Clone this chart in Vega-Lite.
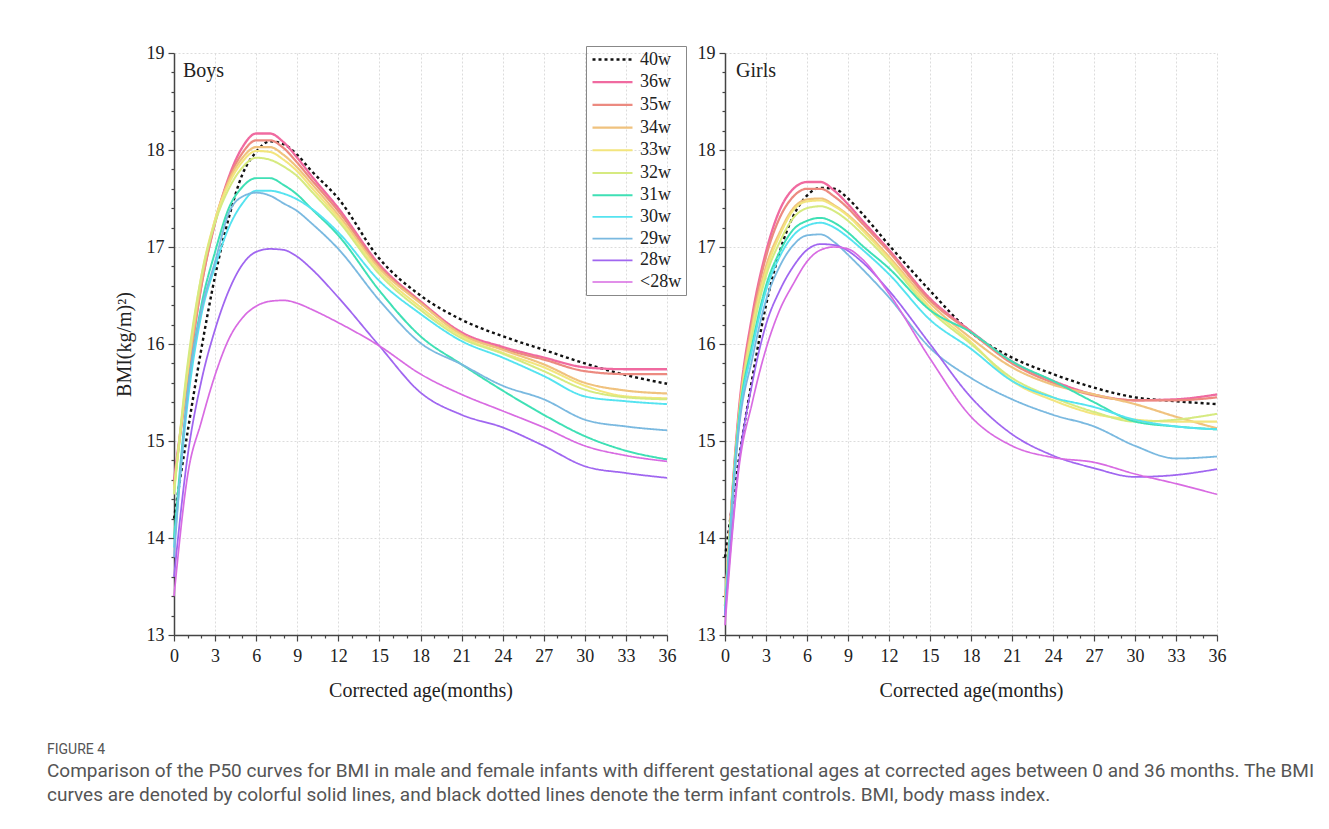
{
"$schema": "https://vega.github.io/schema/vega-lite/v6.json",
"background": "white",
"padding": {"left": 47, "top": 44, "right": 10, "bottom": 10},
"config": {
  "font": "Liberation Serif",
  "view": {"stroke": null},
  "axis": {"labelFont": "Liberation Serif", "labelFontSize": 18, "labelColor": "#222", "titleFont": "Liberation Serif", "titleFontSize": 20, "titleFontWeight": "normal", "titleColor": "#222", "domainColor": "#444", "domainWidth": 1.5, "tickColor": "#444", "tickWidth": 1.2, "gridColor": "#dcdcdc", "gridDash": [2, 2], "labelFlush": false, "labelOverlap": false}
},
"title": {"text": "FIGURE 4", "subtitle": ["Comparison of the P50 curves for BMI in male and female infants with different gestational ages at corrected ages between 0 and 36 months. The BMI", "curves are denoted by colorful solid lines, and black dotted lines denote the term infant controls. BMI, body mass index."], "orient": "bottom", "anchor": "start", "frame": "group", "dx": -127, "offset": 43, "font": "Roboto", "fontSize": 14, "fontWeight": "normal", "color": "#555", "subtitleFont": "Roboto", "subtitleFontSize": 19, "subtitleColor": "#555", "subtitleLineHeight": 24, "subtitlePadding": 5},
"bounds": "flush",
"spacing": 58,
"resolve": {"legend": {"color": "independent", "strokeDash": "independent", "strokeWidth": "independent"}},
"datasets": {"bmi": [
{"p":"Boys","s":"40w","m":0,"v":14.2},{"p":"Boys","s":"40w","m":1,"v":15.1},{"p":"Boys","s":"40w","m":2,"v":15.95},{"p":"Boys","s":"40w","m":3,"v":16.7},{"p":"Boys","s":"40w","m":4,"v":17.3},{"p":"Boys","s":"40w","m":5,"v":17.75},{"p":"Boys","s":"40w","m":6,"v":17.98},{"p":"Boys","s":"40w","m":7,"v":18.09},{"p":"Boys","s":"40w","m":8,"v":18.06},{"p":"Boys","s":"40w","m":9,"v":17.95},{"p":"Boys","s":"40w","m":10,"v":17.79},{"p":"Boys","s":"40w","m":12,"v":17.5},{"p":"Boys","s":"40w","m":15,"v":16.88},{"p":"Boys","s":"40w","m":18,"v":16.5},{"p":"Boys","s":"40w","m":21,"v":16.25},{"p":"Boys","s":"40w","m":24,"v":16.08},{"p":"Boys","s":"40w","m":27,"v":15.94},{"p":"Boys","s":"40w","m":30,"v":15.8},{"p":"Boys","s":"40w","m":33,"v":15.68},{"p":"Boys","s":"40w","m":36,"v":15.59},
{"p":"Boys","s":"36w","m":0,"v":14.6},{"p":"Boys","s":"36w","m":1,"v":15.65},{"p":"Boys","s":"36w","m":2,"v":16.6},{"p":"Boys","s":"36w","m":3,"v":17.25},{"p":"Boys","s":"36w","m":4,"v":17.72},{"p":"Boys","s":"36w","m":5,"v":18.03},{"p":"Boys","s":"36w","m":6,"v":18.17},{"p":"Boys","s":"36w","m":7,"v":18.17},{"p":"Boys","s":"36w","m":8,"v":18.08},{"p":"Boys","s":"36w","m":9,"v":17.92},{"p":"Boys","s":"36w","m":10,"v":17.74},{"p":"Boys","s":"36w","m":12,"v":17.4},{"p":"Boys","s":"36w","m":15,"v":16.82},{"p":"Boys","s":"36w","m":18,"v":16.44},{"p":"Boys","s":"36w","m":21,"v":16.12},{"p":"Boys","s":"36w","m":24,"v":15.97},{"p":"Boys","s":"36w","m":27,"v":15.86},{"p":"Boys","s":"36w","m":30,"v":15.76},{"p":"Boys","s":"36w","m":33,"v":15.74},{"p":"Boys","s":"36w","m":36,"v":15.74},
{"p":"Boys","s":"35w","m":0,"v":14.55},{"p":"Boys","s":"35w","m":1,"v":15.65},{"p":"Boys","s":"35w","m":2,"v":16.6},{"p":"Boys","s":"35w","m":3,"v":17.25},{"p":"Boys","s":"35w","m":4,"v":17.7},{"p":"Boys","s":"35w","m":5,"v":17.97},{"p":"Boys","s":"35w","m":6,"v":18.1},{"p":"Boys","s":"35w","m":7,"v":18.1},{"p":"Boys","s":"35w","m":8,"v":18.02},{"p":"Boys","s":"35w","m":9,"v":17.87},{"p":"Boys","s":"35w","m":10,"v":17.7},{"p":"Boys","s":"35w","m":12,"v":17.37},{"p":"Boys","s":"35w","m":15,"v":16.8},{"p":"Boys","s":"35w","m":18,"v":16.43},{"p":"Boys","s":"35w","m":21,"v":16.1},{"p":"Boys","s":"35w","m":24,"v":15.95},{"p":"Boys","s":"35w","m":27,"v":15.84},{"p":"Boys","s":"35w","m":30,"v":15.72},{"p":"Boys","s":"35w","m":33,"v":15.69},{"p":"Boys","s":"35w","m":36,"v":15.69},
{"p":"Boys","s":"34w","m":0,"v":14.5},{"p":"Boys","s":"34w","m":1,"v":15.7},{"p":"Boys","s":"34w","m":2,"v":16.65},{"p":"Boys","s":"34w","m":3,"v":17.28},{"p":"Boys","s":"34w","m":4,"v":17.68},{"p":"Boys","s":"34w","m":5,"v":17.92},{"p":"Boys","s":"34w","m":6,"v":18.03},{"p":"Boys","s":"34w","m":7,"v":18.03},{"p":"Boys","s":"34w","m":8,"v":17.95},{"p":"Boys","s":"34w","m":9,"v":17.82},{"p":"Boys","s":"34w","m":10,"v":17.66},{"p":"Boys","s":"34w","m":12,"v":17.33},{"p":"Boys","s":"34w","m":15,"v":16.78},{"p":"Boys","s":"34w","m":18,"v":16.42},{"p":"Boys","s":"34w","m":21,"v":16.1},{"p":"Boys","s":"34w","m":24,"v":15.94},{"p":"Boys","s":"34w","m":27,"v":15.79},{"p":"Boys","s":"34w","m":30,"v":15.6},{"p":"Boys","s":"34w","m":33,"v":15.52},{"p":"Boys","s":"34w","m":36,"v":15.49},
{"p":"Boys","s":"33w","m":0,"v":14.5},{"p":"Boys","s":"33w","m":1,"v":15.75},{"p":"Boys","s":"33w","m":2,"v":16.7},{"p":"Boys","s":"33w","m":3,"v":17.28},{"p":"Boys","s":"33w","m":4,"v":17.65},{"p":"Boys","s":"33w","m":5,"v":17.88},{"p":"Boys","s":"33w","m":6,"v":17.99},{"p":"Boys","s":"33w","m":7,"v":17.98},{"p":"Boys","s":"33w","m":8,"v":17.9},{"p":"Boys","s":"33w","m":9,"v":17.78},{"p":"Boys","s":"33w","m":10,"v":17.62},{"p":"Boys","s":"33w","m":12,"v":17.3},{"p":"Boys","s":"33w","m":15,"v":16.75},{"p":"Boys","s":"33w","m":18,"v":16.38},{"p":"Boys","s":"33w","m":21,"v":16.08},{"p":"Boys","s":"33w","m":24,"v":15.91},{"p":"Boys","s":"33w","m":27,"v":15.76},{"p":"Boys","s":"33w","m":30,"v":15.57},{"p":"Boys","s":"33w","m":33,"v":15.46},{"p":"Boys","s":"33w","m":36,"v":15.44},
{"p":"Boys","s":"32w","m":0,"v":14.45},{"p":"Boys","s":"32w","m":1,"v":15.8},{"p":"Boys","s":"32w","m":2,"v":16.7},{"p":"Boys","s":"32w","m":3,"v":17.25},{"p":"Boys","s":"32w","m":4,"v":17.6},{"p":"Boys","s":"32w","m":5,"v":17.82},{"p":"Boys","s":"32w","m":6,"v":17.92},{"p":"Boys","s":"32w","m":7,"v":17.9},{"p":"Boys","s":"32w","m":8,"v":17.83},{"p":"Boys","s":"32w","m":9,"v":17.73},{"p":"Boys","s":"32w","m":10,"v":17.58},{"p":"Boys","s":"32w","m":12,"v":17.27},{"p":"Boys","s":"32w","m":15,"v":16.72},{"p":"Boys","s":"32w","m":18,"v":16.35},{"p":"Boys","s":"32w","m":21,"v":16.06},{"p":"Boys","s":"32w","m":24,"v":15.9},{"p":"Boys","s":"32w","m":27,"v":15.72},{"p":"Boys","s":"32w","m":30,"v":15.53},{"p":"Boys","s":"32w","m":33,"v":15.45},{"p":"Boys","s":"32w","m":36,"v":15.43},
{"p":"Boys","s":"31w","m":0,"v":14.0},{"p":"Boys","s":"31w","m":1,"v":15.5},{"p":"Boys","s":"31w","m":2,"v":16.4},{"p":"Boys","s":"31w","m":3,"v":16.95},{"p":"Boys","s":"31w","m":4,"v":17.4},{"p":"Boys","s":"31w","m":5,"v":17.62},{"p":"Boys","s":"31w","m":6,"v":17.71},{"p":"Boys","s":"31w","m":7,"v":17.71},{"p":"Boys","s":"31w","m":8,"v":17.64},{"p":"Boys","s":"31w","m":9,"v":17.54},{"p":"Boys","s":"31w","m":10,"v":17.4},{"p":"Boys","s":"31w","m":12,"v":17.12},{"p":"Boys","s":"31w","m":15,"v":16.55},{"p":"Boys","s":"31w","m":18,"v":16.08},{"p":"Boys","s":"31w","m":21,"v":15.79},{"p":"Boys","s":"31w","m":24,"v":15.52},{"p":"Boys","s":"31w","m":27,"v":15.27},{"p":"Boys","s":"31w","m":30,"v":15.05},{"p":"Boys","s":"31w","m":33,"v":14.9},{"p":"Boys","s":"31w","m":36,"v":14.81},
{"p":"Boys","s":"30w","m":0,"v":13.9},{"p":"Boys","s":"30w","m":1,"v":15.4},{"p":"Boys","s":"30w","m":2,"v":16.3},{"p":"Boys","s":"30w","m":3,"v":16.8},{"p":"Boys","s":"30w","m":4,"v":17.2},{"p":"Boys","s":"30w","m":5,"v":17.45},{"p":"Boys","s":"30w","m":6,"v":17.58},{"p":"Boys","s":"30w","m":7,"v":17.58},{"p":"Boys","s":"30w","m":8,"v":17.55},{"p":"Boys","s":"30w","m":9,"v":17.49},{"p":"Boys","s":"30w","m":10,"v":17.4},{"p":"Boys","s":"30w","m":12,"v":17.15},{"p":"Boys","s":"30w","m":15,"v":16.65},{"p":"Boys","s":"30w","m":18,"v":16.31},{"p":"Boys","s":"30w","m":21,"v":16.03},{"p":"Boys","s":"30w","m":24,"v":15.86},{"p":"Boys","s":"30w","m":27,"v":15.67},{"p":"Boys","s":"30w","m":30,"v":15.46},{"p":"Boys","s":"30w","m":33,"v":15.41},{"p":"Boys","s":"30w","m":36,"v":15.38},
{"p":"Boys","s":"29w","m":0,"v":13.8},{"p":"Boys","s":"29w","m":1,"v":15.5},{"p":"Boys","s":"29w","m":2,"v":16.35},{"p":"Boys","s":"29w","m":3,"v":16.85},{"p":"Boys","s":"29w","m":4,"v":17.35},{"p":"Boys","s":"29w","m":5,"v":17.52},{"p":"Boys","s":"29w","m":6,"v":17.56},{"p":"Boys","s":"29w","m":7,"v":17.53},{"p":"Boys","s":"29w","m":8,"v":17.45},{"p":"Boys","s":"29w","m":9,"v":17.37},{"p":"Boys","s":"29w","m":10,"v":17.25},{"p":"Boys","s":"29w","m":12,"v":16.98},{"p":"Boys","s":"29w","m":15,"v":16.45},{"p":"Boys","s":"29w","m":18,"v":16.01},{"p":"Boys","s":"29w","m":21,"v":15.79},{"p":"Boys","s":"29w","m":24,"v":15.57},{"p":"Boys","s":"29w","m":27,"v":15.43},{"p":"Boys","s":"29w","m":30,"v":15.22},{"p":"Boys","s":"29w","m":33,"v":15.15},{"p":"Boys","s":"29w","m":36,"v":15.11},
{"p":"Boys","s":"28w","m":0,"v":13.6},{"p":"Boys","s":"28w","m":1,"v":14.85},{"p":"Boys","s":"28w","m":2,"v":15.62},{"p":"Boys","s":"28w","m":3,"v":16.15},{"p":"Boys","s":"28w","m":4,"v":16.55},{"p":"Boys","s":"28w","m":5,"v":16.82},{"p":"Boys","s":"28w","m":6,"v":16.95},{"p":"Boys","s":"28w","m":7,"v":16.98},{"p":"Boys","s":"28w","m":8,"v":16.97},{"p":"Boys","s":"28w","m":9,"v":16.9},{"p":"Boys","s":"28w","m":10,"v":16.78},{"p":"Boys","s":"28w","m":12,"v":16.48},{"p":"Boys","s":"28w","m":15,"v":15.98},{"p":"Boys","s":"28w","m":18,"v":15.5},{"p":"Boys","s":"28w","m":21,"v":15.27},{"p":"Boys","s":"28w","m":24,"v":15.14},{"p":"Boys","s":"28w","m":27,"v":14.95},{"p":"Boys","s":"28w","m":30,"v":14.74},{"p":"Boys","s":"28w","m":33,"v":14.67},{"p":"Boys","s":"28w","m":36,"v":14.62},
{"p":"Boys","s":"<28w","m":0,"v":13.4},{"p":"Boys","s":"<28w","m":1,"v":14.65},{"p":"Boys","s":"<28w","m":2,"v":15.2},{"p":"Boys","s":"<28w","m":3,"v":15.68},{"p":"Boys","s":"<28w","m":4,"v":16.05},{"p":"Boys","s":"<28w","m":5,"v":16.27},{"p":"Boys","s":"<28w","m":6,"v":16.39},{"p":"Boys","s":"<28w","m":7,"v":16.44},{"p":"Boys","s":"<28w","m":8,"v":16.45},{"p":"Boys","s":"<28w","m":9,"v":16.42},{"p":"Boys","s":"<28w","m":10,"v":16.36},{"p":"Boys","s":"<28w","m":12,"v":16.22},{"p":"Boys","s":"<28w","m":15,"v":15.98},{"p":"Boys","s":"<28w","m":18,"v":15.69},{"p":"Boys","s":"<28w","m":21,"v":15.48},{"p":"Boys","s":"<28w","m":24,"v":15.31},{"p":"Boys","s":"<28w","m":27,"v":15.14},{"p":"Boys","s":"<28w","m":30,"v":14.95},{"p":"Boys","s":"<28w","m":33,"v":14.85},{"p":"Boys","s":"<28w","m":36,"v":14.79},
{"p":"Girls","s":"40w","m":0,"v":13.8},{"p":"Girls","s":"40w","m":1,"v":14.8},{"p":"Girls","s":"40w","m":2,"v":15.65},{"p":"Girls","s":"40w","m":3,"v":16.4},{"p":"Girls","s":"40w","m":4,"v":16.95},{"p":"Girls","s":"40w","m":5,"v":17.32},{"p":"Girls","s":"40w","m":6,"v":17.53},{"p":"Girls","s":"40w","m":7,"v":17.61},{"p":"Girls","s":"40w","m":8,"v":17.6},{"p":"Girls","s":"40w","m":9,"v":17.5},{"p":"Girls","s":"40w","m":10,"v":17.35},{"p":"Girls","s":"40w","m":12,"v":17.02},{"p":"Girls","s":"40w","m":15,"v":16.55},{"p":"Girls","s":"40w","m":18,"v":16.12},{"p":"Girls","s":"40w","m":21,"v":15.86},{"p":"Girls","s":"40w","m":24,"v":15.69},{"p":"Girls","s":"40w","m":27,"v":15.55},{"p":"Girls","s":"40w","m":30,"v":15.45},{"p":"Girls","s":"40w","m":33,"v":15.41},{"p":"Girls","s":"40w","m":36,"v":15.38},
{"p":"Girls","s":"36w","m":0,"v":13.3},{"p":"Girls","s":"36w","m":1,"v":15.3},{"p":"Girls","s":"36w","m":2,"v":16.3},{"p":"Girls","s":"36w","m":3,"v":16.95},{"p":"Girls","s":"36w","m":4,"v":17.38},{"p":"Girls","s":"36w","m":5,"v":17.6},{"p":"Girls","s":"36w","m":6,"v":17.67},{"p":"Girls","s":"36w","m":7,"v":17.67},{"p":"Girls","s":"36w","m":8,"v":17.58},{"p":"Girls","s":"36w","m":9,"v":17.44},{"p":"Girls","s":"36w","m":10,"v":17.28},{"p":"Girls","s":"36w","m":12,"v":16.97},{"p":"Girls","s":"36w","m":15,"v":16.47},{"p":"Girls","s":"36w","m":18,"v":16.13},{"p":"Girls","s":"36w","m":21,"v":15.82},{"p":"Girls","s":"36w","m":24,"v":15.62},{"p":"Girls","s":"36w","m":27,"v":15.48},{"p":"Girls","s":"36w","m":30,"v":15.42},{"p":"Girls","s":"36w","m":33,"v":15.43},{"p":"Girls","s":"36w","m":36,"v":15.48},
{"p":"Girls","s":"35w","m":0,"v":13.3},{"p":"Girls","s":"35w","m":1,"v":15.25},{"p":"Girls","s":"35w","m":2,"v":16.25},{"p":"Girls","s":"35w","m":3,"v":16.9},{"p":"Girls","s":"35w","m":4,"v":17.3},{"p":"Girls","s":"35w","m":5,"v":17.52},{"p":"Girls","s":"35w","m":6,"v":17.6},{"p":"Girls","s":"35w","m":7,"v":17.6},{"p":"Girls","s":"35w","m":8,"v":17.52},{"p":"Girls","s":"35w","m":9,"v":17.4},{"p":"Girls","s":"35w","m":10,"v":17.25},{"p":"Girls","s":"35w","m":12,"v":16.95},{"p":"Girls","s":"35w","m":15,"v":16.45},{"p":"Girls","s":"35w","m":18,"v":16.12},{"p":"Girls","s":"35w","m":21,"v":15.8},{"p":"Girls","s":"35w","m":24,"v":15.6},{"p":"Girls","s":"35w","m":27,"v":15.47},{"p":"Girls","s":"35w","m":30,"v":15.42},{"p":"Girls","s":"35w","m":33,"v":15.42},{"p":"Girls","s":"35w","m":36,"v":15.45},
{"p":"Girls","s":"34w","m":0,"v":13.3},{"p":"Girls","s":"34w","m":1,"v":15.25},{"p":"Girls","s":"34w","m":2,"v":16.2},{"p":"Girls","s":"34w","m":3,"v":16.8},{"p":"Girls","s":"34w","m":4,"v":17.15},{"p":"Girls","s":"34w","m":5,"v":17.4},{"p":"Girls","s":"34w","m":6,"v":17.49},{"p":"Girls","s":"34w","m":7,"v":17.5},{"p":"Girls","s":"34w","m":8,"v":17.43},{"p":"Girls","s":"34w","m":9,"v":17.33},{"p":"Girls","s":"34w","m":10,"v":17.2},{"p":"Girls","s":"34w","m":12,"v":16.9},{"p":"Girls","s":"34w","m":15,"v":16.42},{"p":"Girls","s":"34w","m":18,"v":16.06},{"p":"Girls","s":"34w","m":21,"v":15.76},{"p":"Girls","s":"34w","m":24,"v":15.58},{"p":"Girls","s":"34w","m":27,"v":15.48},{"p":"Girls","s":"34w","m":30,"v":15.38},{"p":"Girls","s":"34w","m":33,"v":15.25},{"p":"Girls","s":"34w","m":36,"v":15.13},
{"p":"Girls","s":"33w","m":0,"v":13.3},{"p":"Girls","s":"33w","m":1,"v":15.2},{"p":"Girls","s":"33w","m":2,"v":16.15},{"p":"Girls","s":"33w","m":3,"v":16.75},{"p":"Girls","s":"33w","m":4,"v":17.12},{"p":"Girls","s":"33w","m":5,"v":17.38},{"p":"Girls","s":"33w","m":6,"v":17.47},{"p":"Girls","s":"33w","m":7,"v":17.48},{"p":"Girls","s":"33w","m":8,"v":17.42},{"p":"Girls","s":"33w","m":9,"v":17.32},{"p":"Girls","s":"33w","m":10,"v":17.18},{"p":"Girls","s":"33w","m":12,"v":16.88},{"p":"Girls","s":"33w","m":15,"v":16.38},{"p":"Girls","s":"33w","m":18,"v":16.02},{"p":"Girls","s":"33w","m":21,"v":15.62},{"p":"Girls","s":"33w","m":24,"v":15.42},{"p":"Girls","s":"33w","m":27,"v":15.28},{"p":"Girls","s":"33w","m":30,"v":15.22},{"p":"Girls","s":"33w","m":33,"v":15.2},{"p":"Girls","s":"33w","m":36,"v":15.2},
{"p":"Girls","s":"32w","m":0,"v":13.3},{"p":"Girls","s":"32w","m":1,"v":15.2},{"p":"Girls","s":"32w","m":2,"v":16.1},{"p":"Girls","s":"32w","m":3,"v":16.7},{"p":"Girls","s":"32w","m":4,"v":17.05},{"p":"Girls","s":"32w","m":5,"v":17.3},{"p":"Girls","s":"32w","m":6,"v":17.4},{"p":"Girls","s":"32w","m":7,"v":17.42},{"p":"Girls","s":"32w","m":8,"v":17.37},{"p":"Girls","s":"32w","m":9,"v":17.27},{"p":"Girls","s":"32w","m":10,"v":17.14},{"p":"Girls","s":"32w","m":12,"v":16.85},{"p":"Girls","s":"32w","m":15,"v":16.35},{"p":"Girls","s":"32w","m":18,"v":16.0},{"p":"Girls","s":"32w","m":21,"v":15.65},{"p":"Girls","s":"32w","m":24,"v":15.45},{"p":"Girls","s":"32w","m":27,"v":15.3},{"p":"Girls","s":"32w","m":30,"v":15.2},{"p":"Girls","s":"32w","m":33,"v":15.22},{"p":"Girls","s":"32w","m":36,"v":15.28},
{"p":"Girls","s":"31w","m":0,"v":13.25},{"p":"Girls","s":"31w","m":1,"v":15.2},{"p":"Girls","s":"31w","m":2,"v":16.0},{"p":"Girls","s":"31w","m":3,"v":16.6},{"p":"Girls","s":"31w","m":4,"v":16.95},{"p":"Girls","s":"31w","m":5,"v":17.18},{"p":"Girls","s":"31w","m":6,"v":17.27},{"p":"Girls","s":"31w","m":7,"v":17.3},{"p":"Girls","s":"31w","m":8,"v":17.25},{"p":"Girls","s":"31w","m":9,"v":17.15},{"p":"Girls","s":"31w","m":10,"v":17.02},{"p":"Girls","s":"31w","m":12,"v":16.78},{"p":"Girls","s":"31w","m":15,"v":16.35},{"p":"Girls","s":"31w","m":18,"v":16.12},{"p":"Girls","s":"31w","m":21,"v":15.82},{"p":"Girls","s":"31w","m":24,"v":15.62},{"p":"Girls","s":"31w","m":27,"v":15.4},{"p":"Girls","s":"31w","m":30,"v":15.2},{"p":"Girls","s":"31w","m":33,"v":15.15},{"p":"Girls","s":"31w","m":36,"v":15.12},
{"p":"Girls","s":"30w","m":0,"v":13.2},{"p":"Girls","s":"30w","m":1,"v":15.15},{"p":"Girls","s":"30w","m":2,"v":15.95},{"p":"Girls","s":"30w","m":3,"v":16.55},{"p":"Girls","s":"30w","m":4,"v":16.9},{"p":"Girls","s":"30w","m":5,"v":17.12},{"p":"Girls","s":"30w","m":6,"v":17.22},{"p":"Girls","s":"30w","m":7,"v":17.25},{"p":"Girls","s":"30w","m":8,"v":17.2},{"p":"Girls","s":"30w","m":9,"v":17.1},{"p":"Girls","s":"30w","m":10,"v":16.98},{"p":"Girls","s":"30w","m":12,"v":16.72},{"p":"Girls","s":"30w","m":15,"v":16.25},{"p":"Girls","s":"30w","m":18,"v":15.95},{"p":"Girls","s":"30w","m":21,"v":15.62},{"p":"Girls","s":"30w","m":24,"v":15.45},{"p":"Girls","s":"30w","m":27,"v":15.35},{"p":"Girls","s":"30w","m":30,"v":15.22},{"p":"Girls","s":"30w","m":33,"v":15.15},{"p":"Girls","s":"30w","m":36,"v":15.12},
{"p":"Girls","s":"29w","m":0,"v":13.2},{"p":"Girls","s":"29w","m":1,"v":15.1},{"p":"Girls","s":"29w","m":2,"v":15.85},{"p":"Girls","s":"29w","m":3,"v":16.45},{"p":"Girls","s":"29w","m":4,"v":16.8},{"p":"Girls","s":"29w","m":5,"v":17.02},{"p":"Girls","s":"29w","m":6,"v":17.12},{"p":"Girls","s":"29w","m":7,"v":17.13},{"p":"Girls","s":"29w","m":8,"v":17.05},{"p":"Girls","s":"29w","m":9,"v":16.92},{"p":"Girls","s":"29w","m":10,"v":16.78},{"p":"Girls","s":"29w","m":12,"v":16.48},{"p":"Girls","s":"29w","m":15,"v":15.96},{"p":"Girls","s":"29w","m":18,"v":15.65},{"p":"Girls","s":"29w","m":21,"v":15.43},{"p":"Girls","s":"29w","m":24,"v":15.27},{"p":"Girls","s":"29w","m":27,"v":15.15},{"p":"Girls","s":"29w","m":30,"v":14.95},{"p":"Girls","s":"29w","m":33,"v":14.82},{"p":"Girls","s":"29w","m":36,"v":14.84},
{"p":"Girls","s":"28w","m":0,"v":13.2},{"p":"Girls","s":"28w","m":1,"v":14.75},{"p":"Girls","s":"28w","m":2,"v":15.6},{"p":"Girls","s":"28w","m":3,"v":16.2},{"p":"Girls","s":"28w","m":4,"v":16.55},{"p":"Girls","s":"28w","m":5,"v":16.8},{"p":"Girls","s":"28w","m":6,"v":16.97},{"p":"Girls","s":"28w","m":7,"v":17.03},{"p":"Girls","s":"28w","m":8,"v":17.02},{"p":"Girls","s":"28w","m":9,"v":16.96},{"p":"Girls","s":"28w","m":10,"v":16.85},{"p":"Girls","s":"28w","m":12,"v":16.55},{"p":"Girls","s":"28w","m":15,"v":16.0},{"p":"Girls","s":"28w","m":18,"v":15.45},{"p":"Girls","s":"28w","m":21,"v":15.07},{"p":"Girls","s":"28w","m":24,"v":14.85},{"p":"Girls","s":"28w","m":27,"v":14.72},{"p":"Girls","s":"28w","m":30,"v":14.63},{"p":"Girls","s":"28w","m":33,"v":14.65},{"p":"Girls","s":"28w","m":36,"v":14.71},
{"p":"Girls","s":"<28w","m":0,"v":13.1},{"p":"Girls","s":"<28w","m":1,"v":14.7},{"p":"Girls","s":"<28w","m":2,"v":15.4},{"p":"Girls","s":"<28w","m":3,"v":15.95},{"p":"Girls","s":"<28w","m":4,"v":16.35},{"p":"Girls","s":"<28w","m":5,"v":16.62},{"p":"Girls","s":"<28w","m":6,"v":16.85},{"p":"Girls","s":"<28w","m":7,"v":16.97},{"p":"Girls","s":"<28w","m":8,"v":17.0},{"p":"Girls","s":"<28w","m":9,"v":16.98},{"p":"Girls","s":"<28w","m":10,"v":16.88},{"p":"Girls","s":"<28w","m":12,"v":16.52},{"p":"Girls","s":"<28w","m":15,"v":15.85},{"p":"Girls","s":"<28w","m":18,"v":15.25},{"p":"Girls","s":"<28w","m":21,"v":14.95},{"p":"Girls","s":"<28w","m":24,"v":14.83},{"p":"Girls","s":"<28w","m":27,"v":14.78},{"p":"Girls","s":"<28w","m":30,"v":14.66},{"p":"Girls","s":"<28w","m":33,"v":14.56},{"p":"Girls","s":"<28w","m":36,"v":14.45}
]},
"hconcat": [
 {
  "width": 493, "height": 582,
  "data": {"name": "bmi"},
  "transform": [{"filter": "datum.p === 'Boys'"}],
  "title": {"text": "Boys", "anchor": "start", "frame": "group", "orient": "top", "offset": 0, "dx": 9, "dy": 53, "baseline": "alphabetic", "font": "Liberation Serif", "fontSize": 20, "fontWeight": "normal", "color": "#222"},
  "layer": [
   {
    "mark": {"type": "line", "interpolate": "monotone"},
    "encoding": {
     "x": {"field": "m", "type": "quantitative", "scale": {"domain": [0, 36], "nice": false}, "axis": {"values": [0,3,6,9,12,15,18,21,24,27,30,33,36], "title": "Corrected age(months)", "grid": true, "tickSize": 6, "labelPadding": 6, "titlePadding": 15}},
     "y": {"field": "v", "type": "quantitative", "scale": {"domain": [13, 19], "nice": false, "zero": false}, "axis": {"values": [13,14,15,16,17,18,19], "title": "BMI(kg/m)²)", "grid": true, "tickSize": 6, "labelPadding": 4, "titlePadding": 12}},
     "color": {"field": "s", "type": "nominal", "scale": {"domain": ["40w","36w","35w","34w","33w","32w","31w","30w","29w","28w","<28w"], "range": ["#111111","#f06aa0","#ec8a80","#f0c27e","#f3e57e","#d6ea80","#3fe0b5","#55e3f0","#7ab9e0","#a066f0","#d86be2"]}, "legend": {"title": null, "orient": "none", "legendX": 412, "legendY": -7, "strokeColor": "#888", "padding": 4, "symbolType": "M-2.5,0H2.5", "symbolSize": 256, "symbolOffset": 13, "symbolStrokeWidth": 2, "labelFont": "Liberation Serif", "labelFontSize": 18, "labelColor": "#222", "labelOffset": 18, "rowPadding": 3.7}},
     "strokeDash": {"field": "s", "type": "nominal", "scale": {"domain": ["40w","36w","35w","34w","33w","32w","31w","30w","29w","28w","<28w"], "range": [[3,3],[1,0],[1,0],[1,0],[1,0],[1,0],[1,0],[1,0],[1,0],[1,0],[1,0]]}, "legend": {"title": null, "orient": "none", "legendX": 412, "legendY": -7, "strokeColor": "#888", "padding": 4, "symbolType": "M-2.5,0H2.5", "symbolSize": 256, "symbolOffset": 13, "symbolStrokeWidth": 2, "labelFont": "Liberation Serif", "labelFontSize": 18, "labelColor": "#222", "labelOffset": 18, "rowPadding": 3.7}},
     "strokeWidth": {"field": "s", "type": "nominal", "scale": {"domain": ["40w","36w","35w","34w","33w","32w","31w","30w","29w","28w","<28w"], "range": [2.4,1.7,1.7,1.7,1.7,1.7,1.7,1.7,1.7,1.7,1.7]}, "legend": null}
    }
   },
   {
    "mark": {"type": "line", "strokeOpacity": 0},
    "encoding": {
     "detail": {"field": "s"},
     "x": {"field": "m", "type": "quantitative", "axis": {"orient": "bottom", "values": [1,2,4,5,7,8,10,11,13,14,16,17,19,20,22,23,25,26,28,29,31,32,34,35], "labels": false, "domain": false, "grid": false, "tickSize": 3, "title": null}},
     "y": {"field": "v", "type": "quantitative", "axis": {"orient": "left", "values": [13.2,13.4,13.6,13.8,14.2,14.4,14.6,14.8,15.2,15.4,15.6,15.8,16.2,16.4,16.6,16.8,17.2,17.4,17.6,17.8,18.2,18.4,18.6,18.8], "labels": false, "domain": false, "grid": false, "tickSize": 3, "title": null}}
    }
   }
  ],
  "resolve": {"axis": {"x": "independent", "y": "independent"}}
 },
 {
  "width": 492, "height": 582,
  "data": {"name": "bmi"},
  "transform": [{"filter": "datum.p === 'Girls'"}],
  "title": {"text": "Girls", "anchor": "start", "frame": "group", "orient": "top", "offset": 0, "dx": 11, "dy": 53, "baseline": "alphabetic", "font": "Liberation Serif", "fontSize": 20, "fontWeight": "normal", "color": "#222"},
  "layer": [
   {
    "mark": {"type": "line", "interpolate": "monotone"},
    "encoding": {
     "x": {"field": "m", "type": "quantitative", "scale": {"domain": [0, 36], "nice": false}, "axis": {"values": [0,3,6,9,12,15,18,21,24,27,30,33,36], "title": "Corrected age(months)", "grid": true, "tickSize": 6, "labelPadding": 6, "titlePadding": 15}},
     "y": {"field": "v", "type": "quantitative", "scale": {"domain": [13, 19], "nice": false, "zero": false}, "axis": {"values": [13,14,15,16,17,18,19], "title": null, "grid": true, "tickSize": 6, "labelPadding": 4}},
     "color": {"field": "s", "type": "nominal", "scale": {"domain": ["40w","36w","35w","34w","33w","32w","31w","30w","29w","28w","<28w"], "range": ["#111111","#f06aa0","#ec8a80","#f0c27e","#f3e57e","#d6ea80","#3fe0b5","#55e3f0","#7ab9e0","#a066f0","#d86be2"]}, "legend": null},
     "strokeDash": {"field": "s", "type": "nominal", "scale": {"domain": ["40w","36w","35w","34w","33w","32w","31w","30w","29w","28w","<28w"], "range": [[3,3],[1,0],[1,0],[1,0],[1,0],[1,0],[1,0],[1,0],[1,0],[1,0],[1,0]]}, "legend": null},
     "strokeWidth": {"field": "s", "type": "nominal", "scale": {"domain": ["40w","36w","35w","34w","33w","32w","31w","30w","29w","28w","<28w"], "range": [2.4,1.7,1.7,1.7,1.7,1.7,1.7,1.7,1.7,1.7,1.7]}, "legend": null}
    }
   },
   {
    "mark": {"type": "line", "strokeOpacity": 0},
    "encoding": {
     "detail": {"field": "s"},
     "x": {"field": "m", "type": "quantitative", "axis": {"orient": "bottom", "values": [1,2,4,5,7,8,10,11,13,14,16,17,19,20,22,23,25,26,28,29,31,32,34,35], "labels": false, "domain": false, "grid": false, "tickSize": 3, "title": null}},
     "y": {"field": "v", "type": "quantitative", "axis": {"orient": "left", "values": [13.2,13.4,13.6,13.8,14.2,14.4,14.6,14.8,15.2,15.4,15.6,15.8,16.2,16.4,16.6,16.8,17.2,17.4,17.6,17.8,18.2,18.4,18.6,18.8], "labels": false, "domain": false, "grid": false, "tickSize": 3, "title": null}}
    }
   }
  ],
  "resolve": {"axis": {"x": "independent", "y": "independent"}}
 }
]
}
